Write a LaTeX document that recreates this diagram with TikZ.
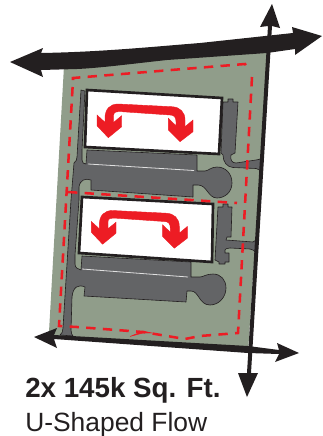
\documentclass[tikz,border=0pt]{standalone}
\usepackage{fontspec}
\setmainfont{Liberation Sans}
\definecolor{ink}{HTML}{231F20}
\definecolor{lot}{HTML}{909D8A}
\definecolor{pave}{HTML}{636466}
\definecolor{flow}{HTML}{ED1C24}
\tikzset{
  inkfill/.style={fill=ink,draw=none},
  lotfill/.style={fill=lot,draw=none},
  pavefill/.style={fill=pave,draw=ink,line width=0.45pt,line join=round},
  building/.style={fill=white,draw=ink,line width=2pt,line join=miter},
  flowfill/.style={fill=flow,draw=flow,line width=0.3pt},
  limit/.style={draw=flow,line width=1.9pt,dash pattern=on 7pt off 5.5pt},
  stripe/.style={draw=white!80!pave,line width=0.6pt},
  caption/.style={anchor=base west,inner sep=0pt,text=ink}
}
\newcommand{\flowshape}{
  \path[flowfill] (97,115) -- (105,122.3) -- (105,118.3)
    .. controls (105,109) and (110,104) .. (118.3,104)
    -- (171.7,106.7) .. controls (180,107) and (185,112) .. (185,120)
    -- (185,126.7) -- (193,120) -- (193,131.7) -- (180,141.7) -- (168.3,130) -- (168.3,118.3)
    -- (176,125.7) -- (176,121.7) .. controls (176,117) and (174,115) .. (170,115)
    -- (121.7,111.7) .. controls (116,111.5) and (113.7,112) .. (113.7,115)
    -- (113.7,122.3) -- (121.7,115.7) -- (121.7,126.7) -- (108.3,137.7) -- (97,125.7) -- cycle;
}
\begin{document}
\begin{tikzpicture}[x=0.75pt,y=-0.75pt]
\useasboundingbox (0,0) rectangle (322,436);
% lot
\fill[lotfill] (64,66) -- (268,48) -- (248,352) -- (56,337) -- (49,332) -- cycle;
% pavement, west road and the two parking courts
\path[pavefill] (81,90) -- (85,91) -- (82,150) -- (82,160) .. controls (82,163) and (84,164) .. (86,164)
  -- (87,150) -- (197,155) -- (197,171) -- (205,171)
  .. controls (208,171) and (211,167) .. (217,167)
  .. controls (226,167) and (232,174) .. (232,183)
  .. controls (232,192) and (225,198) .. (217,198)
  .. controls (208,198) and (207,185) .. (198,185)
  -- (193,185) -- (193,197) -- (91,190) -- (91,180)
  .. controls (85,178) and (80,180) .. (79,187) -- (79,200) -- (75,255)
  -- (75,264) .. controls (75,268) and (78,269) .. (81,270) -- (82,256)
  -- (191,262) -- (191,277) -- (200,277)
  .. controls (203,277) and (206,274) .. (213,274)
  .. controls (221,274) and (226,280) .. (226,288)
  .. controls (226,297) and (219,305) .. (210,305)
  .. controls (199,305) and (199,291) .. (191,291)
  -- (187,291) -- (186,302) -- (84,296) -- (85,287)
  .. controls (78,284) and (73,287) .. (72,297) -- (71,330)
  .. controls (71,333) and (72,335) .. (73,336) -- (60,335)
  .. controls (62,334) and (63,331) .. (63,328) -- (71,200) -- (74,163)
  .. controls (76,161) and (77,160) .. (77,157) -- cycle;
% stripes
\draw[stripe] (88,164) -- (194,170.5);
\draw[stripe] (82,269) -- (188,277);
% east parking A
\path[pavefill] (223,102) -- (228,102) -- (228,99) -- (233,99) -- (233,102) -- (238,102)
  -- (235,153) -- (231,155) .. controls (230,160) and (232,163) .. (236,163)
  -- (256,160) .. controls (259,160) and (261,159) .. (262,157) -- (261,173)
  .. controls (260,170) and (259,169) .. (256,168.5)
  -- (233,167.5) .. controls (227,167) and (223,162) .. (223,155) -- (221,153) -- cycle;
% east parking B
\path[pavefill] (218,207) -- (223,207) -- (223,204) -- (228,204) -- (228,207) -- (232,207)
  -- (231,237) -- (227,237) -- (226,240) -- (253,242)
  .. controls (256,241) and (257,239) .. (258,237) -- (256,254)
  .. controls (255,251) and (253,249) .. (250,249) -- (230,248)
  .. controls (227,248) and (225,249) .. (225,250) -- (225,253) -- (229,253) -- (229,262)
  -- (225,262) -- (225,264) -- (219,264) -- (219,262) -- (215,260) -- cycle;
% buildings
\path[building] (87,90) -- (222,98) -- (219,154) -- (85,147) -- cycle;
\path[building] (82,197) -- (213,204) -- (212,262) -- (79,253) -- cycle;
% flow arrows
\flowshape
\begin{scope}[shift={(-5.7,106.5)}]\flowshape\end{scope}
% site limit
\draw[limit] (73,80) -- (73,78) -- (245,64) -- (248,68);
\draw[limit] (252,77) -- (238,333) -- (200,336) -- (185,339) -- (143,332) -- (77,327) -- (59,326) -- (73,80);
\draw[limit] (68,192) -- (237,203);
\path[flowfill] (130,336.5) -- (143,331) -- (152,333) -- (143,333) -- cycle;
% roads and arrows
\fill[inkfill] (10,62) -- (43,48) -- (41,53) .. controls (100,52) and (150,47) .. (200,43) -- (293,33) -- (292,27)
  -- (322,36) -- (295,55) -- (295,49) -- (267,53) -- (167,60) .. controls (130,64) and (100,68) .. (77,69)
  -- (41,70) -- (43,77) -- cycle;
\fill[inkfill] (272,4) -- (280,28) -- (272,26) -- (251,373) -- (258,373) -- (247,397) -- (238,373) -- (247,373)
  -- (268,26) -- (260,27) -- cycle;
\fill[inkfill] (34,337) -- (57,328) -- (54,335) -- (248,346) -- (279,350) -- (277,343) -- (299,353)
  -- (275,362) -- (279,354) -- (248,353) -- (54,339) -- (57,348) -- cycle;
% captions
\node[caption,font=\bfseries\fontsize{20.8}{24}\selectfont] (title) at (25,397) {2x 145k Sq. Ft.};
\node[caption,font=\fontsize{19.8}{24}\selectfont] (subtitle) at (25,431.5) {U-Shaped Flow};
\end{tikzpicture}
\end{document}
